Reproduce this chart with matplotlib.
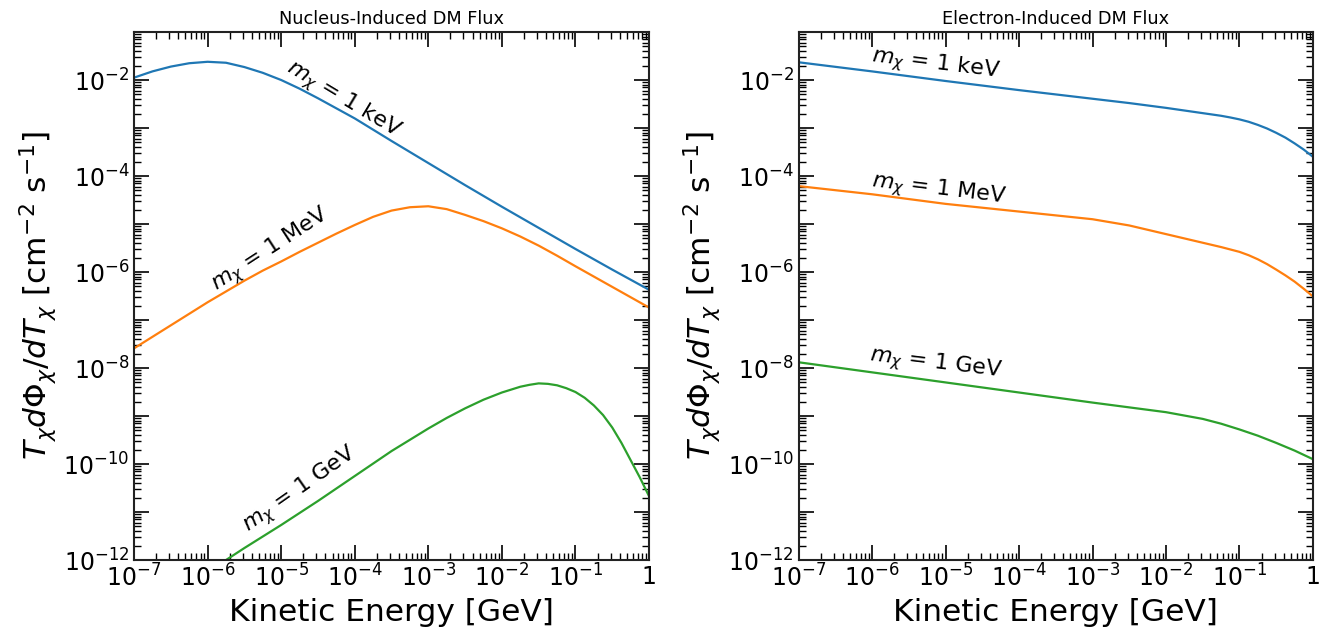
import numpy as np
import matplotlib
matplotlib.use('Agg')
import matplotlib.pyplot as plt
from matplotlib.ticker import LogLocator, FuncFormatter, NullFormatter

# Nucleus-induced flux: log10 T [GeV] and log10 T dPhi/dT [cm^-2 s^-1]
nuc_kev_T = [-7.0, -6.75, -6.5, -6.25, -6.0, -5.75, -5.5, -5.25, -5.0, -4.75,
             -4.5, -4.25, -4.0, -3.5, -3.0, -2.5, -2.0, -1.5, -1.0, -0.5, 0.0]
nuc_kev = [-1.95, -1.82, -1.72, -1.65, -1.62, -1.64, -1.73, -1.85, -2.00, -2.18,
           -2.38, -2.59, -2.80, -3.27, -3.73, -4.19, -4.64, -5.08, -5.52, -5.95,
           -6.37]

nuc_mev_T = [-7.0, -6.5, -6.0, -5.5, -5.25, -5.0, -4.75, -4.5, -4.25, -4.0,
             -3.75, -3.5, -3.25, -3.0, -2.75, -2.5, -2.25, -2.0, -1.75, -1.5,
             -1.25, -1.0, -0.5, 0.0]
nuc_mev = [-7.59, -7.11, -6.63, -6.18, -5.97, -5.78, -5.58, -5.39, -5.20, -5.02,
           -4.85, -4.72, -4.65, -4.63, -4.69, -4.81, -4.94, -5.09, -5.26, -5.45,
           -5.66, -5.88, -6.31, -6.74]

nuc_gev_T = [-6.0, -5.5, -5.0, -4.5, -4.0, -3.5, -3.0, -2.75, -2.5, -2.25,
             -2.0, -1.75, -1.625, -1.5, -1.375, -1.25, -1.125, -1.0, -0.875,
             -0.75, -0.625, -0.5, -0.375, -0.25, -0.125, 0.0]
nuc_gev = [-12.25, -11.75, -11.27, -10.77, -10.25, -9.73, -9.26, -9.04, -8.84,
           -8.66, -8.51, -8.39, -8.35, -8.32, -8.33, -8.36, -8.42, -8.50, -8.62,
           -8.78, -8.98, -9.24, -9.56, -9.92, -10.28, -10.67]

# Electron-induced flux
ele_kev_T = [-7.0, -6.0, -5.0, -4.0, -3.0, -2.5, -2.0, -1.5, -1.25, -1.125,
             -1.0, -0.875, -0.75, -0.625, -0.5, -0.375, -0.25, -0.125, 0.0]
ele_kev = [-1.63, -1.82, -2.02, -2.21, -2.39, -2.48, -2.58, -2.69, -2.745, -2.78,
           -2.82, -2.87, -2.935, -3.01, -3.10, -3.20, -3.32, -3.45, -3.60]

ele_mev_T = [-7.0, -6.0, -5.0, -4.0, -3.5, -3.0, -2.5, -2.0, -1.5, -1.25, -1.0,
             -0.875, -0.75, -0.625, -0.5, -0.375, -0.25, -0.125, 0.0]
ele_mev = [-4.21, -4.38, -4.58, -4.74, -4.82, -4.90, -5.03, -5.21, -5.39, -5.48,
           -5.58, -5.65, -5.735, -5.835, -5.95, -6.07, -6.20, -6.35, -6.51]

ele_gev_T = [-7.0, -6.0, -5.0, -4.0, -3.0, -2.5, -2.0, -1.5, -1.25, -1.0,
             -0.75, -0.5, -0.25, 0.0]
ele_gev = [-7.88, -8.09, -8.30, -8.51, -8.72, -8.82, -8.92, -9.06, -9.16, -9.28,
           -9.41, -9.56, -9.72, -9.90]

masses = ['1 keV', '1 MeV', '1 GeV']
colors = ['C0', 'C1', 'C2']

# label placement: (energy, flux, rotation)
nuc_labels = [(6.9e-5, 3.8e-3, -31), (7.1e-6, 2.9e-6, 33), (1.8e-5, 2.9e-11, 35)]
ele_labels = [(7.4e-6, 2.1e-2, -7), (8.1e-6, 5.1e-5, -7), (7.4e-6, 1.2e-8, -7)]


def pow10(v):
    return 10.0 ** np.asarray(v)


def xfmt(x, pos):
    e = int(round(np.log10(x)))
    if e == 0:
        return '1'
    return r'$10^{%d}$' % e


def yfmt(y, pos):
    e = int(round(np.log10(y)))
    if e % 2:
        return ''
    return r'$10^{%d}$' % e


def style_axes(ax, title):
    ax.set_xscale('log')
    ax.set_yscale('log')
    ax.set_xlim(1e-7, 1)
    ax.set_ylim(1e-12, 1e-1)
    ax.xaxis.set_major_locator(LogLocator(base=10, numticks=20))
    ax.yaxis.set_major_locator(LogLocator(base=10, numticks=20))
    ax.xaxis.set_minor_locator(LogLocator(base=10, subs=np.arange(2, 10), numticks=100))
    ax.yaxis.set_minor_locator(LogLocator(base=10, subs=np.arange(2, 10), numticks=100))
    ax.xaxis.set_major_formatter(FuncFormatter(xfmt))
    ax.yaxis.set_major_formatter(FuncFormatter(yfmt))
    ax.xaxis.set_minor_formatter(NullFormatter())
    ax.yaxis.set_minor_formatter(NullFormatter())
    ax.tick_params(which='both', direction='in', top=True, right=True, labelsize=17)
    ax.tick_params(which='major', length=11, width=1.2)
    ax.tick_params(which='minor', length=5, width=1.0)
    for s in ax.spines.values():
        s.set_linewidth(1.5)
        s.set_color('#222222')
    ax.set_xlabel('Kinetic Energy [GeV]', fontsize=22.5)
    ax.set_ylabel(r'$T_\chi d\Phi_\chi/dT_\chi$ [cm$^{-2}$ s$^{-1}$]', fontsize=22.5)
    ax.set_title(title, fontsize=12.8)


fig = plt.figure(figsize=(13.3, 6.33), dpi=100)
ax1 = fig.add_axes([0.1008, 0.1153, 0.3872, 0.8341])
ax2 = fig.add_axes([0.6004, 0.1153, 0.3868, 0.8341])

ax1.plot(pow10(nuc_kev_T), pow10(nuc_kev), color=colors[0], lw=1.6)
ax1.plot(pow10(nuc_mev_T), pow10(nuc_mev), color=colors[1], lw=1.6)
ax1.plot(pow10(nuc_gev_T), pow10(nuc_gev), color=colors[2], lw=1.6)
for m, (x, y, rot) in zip(masses, nuc_labels):
    ax1.text(x, y, r'$m_\chi$ = ' + m, fontsize=16, rotation=rot,
             ha='center', va='center', rotation_mode='anchor')
style_axes(ax1, 'Nucleus-Induced DM Flux')

ax2.plot(pow10(ele_kev_T), pow10(ele_kev), color=colors[0], lw=1.6)
ax2.plot(pow10(ele_mev_T), pow10(ele_mev), color=colors[1], lw=1.6)
ax2.plot(pow10(ele_gev_T), pow10(ele_gev), color=colors[2], lw=1.6)
for m, (x, y, rot) in zip(masses, ele_labels):
    ax2.text(x, y, r'$m_\chi$ = ' + m, fontsize=16, rotation=rot,
             ha='center', va='center', rotation_mode='anchor')
style_axes(ax2, 'Electron-Induced DM Flux')

fig.savefig('out.png', dpi=100)
